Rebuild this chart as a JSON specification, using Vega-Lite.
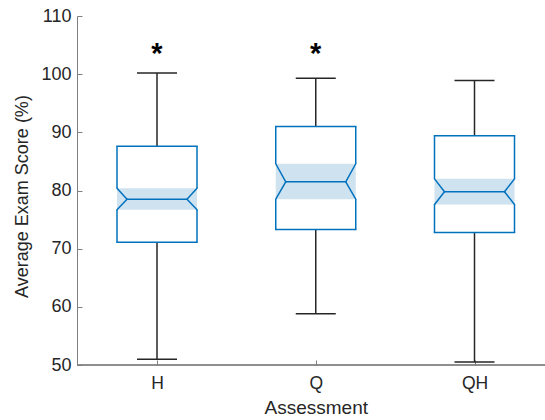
{
  "$schema": "https://vega.github.io/schema/vega-lite/v6.json",
  "width": 468,
  "height": 349,
  "autosize": "none",
  "padding": {"left": 77, "top": 16, "right": 0, "bottom": 55},
  "background": "white",
  "config": {
    "view": {"stroke": null},
    "font": "Liberation Sans",
    "axis": {"labelFont": "Liberation Sans", "titleFont": "Liberation Sans", "labelColor": "#262626", "titleColor": "#262626", "titleFontWeight": "normal", "grid": false, "domainColor": "#7f7f7f", "tickColor": "#7f7f7f"}
  },
  "data": {
    "values": [
      {"Assessment": "H", "lower": 51.0, "q1": 71.1, "nlo": 76.7, "med": 78.5, "nhi": 80.4, "q3": 87.6, "upper": 100.2, "sig": "*"},
      {"Assessment": "Q", "lower": 58.8, "q1": 73.3, "nlo": 78.5, "med": 81.5, "nhi": 84.6, "q3": 91.0, "upper": 99.3, "sig": "*"},
      {"Assessment": "QH", "lower": 50.5, "q1": 72.8, "nlo": 77.6, "med": 79.8, "nhi": 82.0, "q3": 89.4, "upper": 98.9, "sig": ""}
    ]
  },
  "encoding": {
    "x": {
      "field": "Assessment", "type": "nominal",
      "scale": {"type": "point", "domain": ["H", "Q", "QH"], "range": [80, 397.5], "padding": 0},
      "axis": {"title": "Assessment", "domain": false, "labelAngle": 0, "labelFontSize": 17.5, "titleFontSize": 19, "tickSize": -5, "labelPadding": 14, "titlePadding": 7, "tickWidth": 1}
    }
  },
  "layer": [
    {
      "mark": {"type": "bar", "width": 80, "color": "#cfe2f0"},
      "encoding": {
        "y": {"field": "nlo", "type": "quantitative",
          "scale": {"domain": [50, 110], "nice": false, "zero": false},
          "axis": {"title": "Average Exam Score (%)", "values": [50, 60, 70, 80, 90, 100, 110], "labelFontSize": 18, "titleFontSize": 18, "tickSize": -5, "labelPadding": 11, "titlePadding": 9, "titleY": 180, "tickWidth": 1}},
        "y2": {"field": "nhi"}
      }
    },
    {
      "mark": {"type": "rule", "color": "#262626", "strokeWidth": 1.5},
      "encoding": {"y": {"field": "q3", "type": "quantitative"}, "y2": {"field": "upper"}}
    },
    {
      "mark": {"type": "rule", "color": "#262626", "strokeWidth": 1.5},
      "encoding": {"y": {"field": "lower", "type": "quantitative"}, "y2": {"field": "q1"}}
    },
    {
      "mark": {"type": "rule", "color": "#262626", "strokeWidth": 1.5, "xOffset": -20, "x2Offset": 20},
      "encoding": {"x2": {"field": "Assessment"}, "y": {"field": "upper", "type": "quantitative"}}
    },
    {
      "mark": {"type": "rule", "color": "#262626", "strokeWidth": 1.5, "xOffset": -20, "x2Offset": 20},
      "encoding": {"x2": {"field": "Assessment"}, "y": {"field": "lower", "type": "quantitative"}}
    },
    {
      "mark": {"type": "rule", "color": "#0072BD", "strokeWidth": 1.5, "strokeCap": "square", "xOffset": -40, "x2Offset": 40},
      "encoding": {"x2": {"field": "Assessment"}, "y": {"field": "q3", "type": "quantitative"}}
    },
    {
      "mark": {"type": "rule", "color": "#0072BD", "strokeWidth": 1.5, "strokeCap": "square", "xOffset": -40, "x2Offset": 40},
      "encoding": {"x2": {"field": "Assessment"}, "y": {"field": "q1", "type": "quantitative"}}
    },
    {
      "mark": {"type": "rule", "color": "#0072BD", "strokeWidth": 1.5, "strokeCap": "round", "xOffset": -30, "x2Offset": 30},
      "encoding": {"x2": {"field": "Assessment"}, "y": {"field": "med", "type": "quantitative"}}
    },
    {
      "mark": {"type": "rule", "color": "#0072BD", "strokeWidth": 1.5, "xOffset": -40},
      "encoding": {"y": {"field": "q3", "type": "quantitative"}, "y2": {"field": "nhi"}}
    },
    {
      "mark": {"type": "rule", "color": "#0072BD", "strokeWidth": 1.5, "xOffset": 40},
      "encoding": {"y": {"field": "q3", "type": "quantitative"}, "y2": {"field": "nhi"}}
    },
    {
      "mark": {"type": "rule", "color": "#0072BD", "strokeWidth": 1.5, "xOffset": -40},
      "encoding": {"y": {"field": "nlo", "type": "quantitative"}, "y2": {"field": "q1"}}
    },
    {
      "mark": {"type": "rule", "color": "#0072BD", "strokeWidth": 1.5, "xOffset": 40},
      "encoding": {"y": {"field": "nlo", "type": "quantitative"}, "y2": {"field": "q1"}}
    },
    {
      "mark": {"type": "rule", "color": "#0072BD", "strokeWidth": 1.5, "strokeCap": "round", "xOffset": -40, "x2Offset": -30},
      "encoding": {"x2": {"field": "Assessment"}, "y": {"field": "nhi", "type": "quantitative"}, "y2": {"field": "med"}}
    },
    {
      "mark": {"type": "rule", "color": "#0072BD", "strokeWidth": 1.5, "strokeCap": "round", "xOffset": -30, "x2Offset": -40},
      "encoding": {"x2": {"field": "Assessment"}, "y": {"field": "med", "type": "quantitative"}, "y2": {"field": "nlo"}}
    },
    {
      "mark": {"type": "rule", "color": "#0072BD", "strokeWidth": 1.5, "strokeCap": "round", "xOffset": 40, "x2Offset": 30},
      "encoding": {"x2": {"field": "Assessment"}, "y": {"field": "nhi", "type": "quantitative"}, "y2": {"field": "med"}}
    },
    {
      "mark": {"type": "rule", "color": "#0072BD", "strokeWidth": 1.5, "strokeCap": "round", "xOffset": 30, "x2Offset": 40},
      "encoding": {"x2": {"field": "Assessment"}, "y": {"field": "med", "type": "quantitative"}, "y2": {"field": "nlo"}}
    },
    {
      "mark": {"type": "text", "fontSize": 29, "fontWeight": "bold", "color": "black", "baseline": "alphabetic", "font": "Liberation Sans"},
      "encoding": {"y": {"datum": 102}, "text": {"field": "sig"}}
    },
    {
      "mark": {"type": "rule", "color": "#7f7f7f", "strokeWidth": 1},
      "encoding": {"x": {"value": 0}, "x2": {"value": 468}, "y": {"datum": 50}}
    }
  ]
}
